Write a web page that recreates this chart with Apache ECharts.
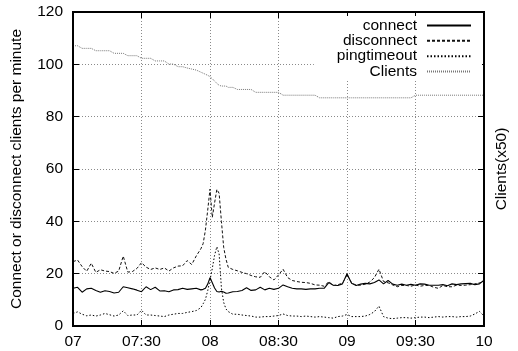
<!DOCTYPE html>
<html>
<head>
<meta charset="utf-8">
<script src="https://cdn.jsdelivr.net/npm/echarts@6/dist/echarts.min.js"></script>
<style>
  html, body { margin: 0; padding: 0; background: #fff; }
  #chart { width: 518px; height: 351px; }
</style>
</head>
<body>
<div id="chart"></div>
<script>
// Minutes after 07:00 for every sample
const minutes = [0,2,4,6,8,10,12,14,16,18,20,22,24,26,28,30,32,34,36,38,40,42,44,46,48,50,52,54,56,
  57,58,59,60,61,62,63,64,65,66,67,
  68,70,72,74,76,78,80,82,84,86,88,90,92,94,96,98,100,102,104,106,108,110,112,114,116,118,120,
  122,124,126,128,130,132,134,136,138,140,142,144,146,148,150,152,154,156,158,160,162,164,166,168,
  170,172,174,176,178,180];

// Connects per minute
const connect = [14.4,14.8,12.9,14.2,14.4,13.6,12.9,13.5,13.2,12.6,12.9,15.0,14.6,14.2,13.7,13.1,15.0,13.9,14.8,13.4,13.5,13.1,13.8,13.9,14.4,14.0,14.2,14.4,13.8,
  14.0,14.4,16.0,18.5,16.5,14.5,13.2,13.0,13.3,13.0,12.5,
  12.6,13.1,13.2,13.6,14.6,13.6,13.8,14.8,13.8,14.4,14.0,14.4,15.7,15.0,14.4,14.2,14.2,14.0,14.2,14.2,14.4,14.4,16.6,15.6,15.5,16.1,20.0,
  16.3,15.5,16.0,16.3,16.1,16.6,17.6,16.1,17.4,16.0,15.6,16.0,15.6,15.9,15.6,16.1,16.0,15.6,15.6,15.6,15.8,15.4,16.1,15.8,
  16.1,16.2,16.3,15.8,16.1,17.5];

// Disconnects per minute
const disconnect = [24.6,25.2,22.7,20.9,24.0,20.5,21.5,21.0,20.8,20.1,21.0,26.7,20.6,20.8,22.0,24.2,22.5,21.6,22.2,21.6,22.2,21.0,22.2,22.9,23.0,25.0,23.5,26.8,29.5,
  31.5,36.7,44.3,52.3,41.5,47.0,52.2,50.7,40.0,30.0,25.5,
  22.4,21.6,21.1,20.5,20.0,19.3,18.8,18.6,20.8,18.8,17.6,19.5,21.7,18.5,17.4,17.0,16.7,16.6,16.3,15.7,15.6,15.2,16.9,15.5,15.8,16.3,19.5,
  16.5,15.6,15.6,16.0,16.8,18.5,21.7,17.0,16.5,15.7,15.0,15.5,15.5,15.2,15.7,15.2,15.5,15.5,14.8,14.4,15.5,15.0,15.0,15.6,
  15.5,15.6,15.8,16.1,16.5,17.0];

// Ping timeouts per minute
const pingtimeout = [4.8,5.4,4.5,3.9,4.2,3.8,4.2,4.8,4.3,3.8,4.2,5.8,4.0,4.2,4.2,6.0,4.2,4.2,4.0,3.8,3.6,4.2,4.5,4.8,4.8,5.2,5.5,5.9,7.0,
  8.5,10.2,13.5,17.5,22.0,27.0,30.3,27.5,14.5,9.0,6.5,
  5.5,4.5,4.5,4.2,4.0,3.8,3.4,3.4,3.6,3.6,3.8,4.0,4.6,4.0,3.8,3.8,3.6,3.8,3.6,3.4,3.6,3.4,3.2,3.0,3.6,3.8,4.4,
  3.6,3.6,3.6,3.8,4.4,5.5,7.6,3.6,3.0,2.8,3.0,3.2,3.2,3.0,3.2,3.4,3.4,3.2,3.4,3.6,3.4,3.6,3.6,3.4,
  3.6,3.6,3.8,4.6,5.6,3.8];

// Connected clients, divided by 50
const clients = [107.1,107.1,106.1,106.1,106.1,105.2,105.2,105.2,105.2,104.2,104.2,104.2,103.3,103.3,103.3,102.3,102.3,102.3,101.3,101.3,101.3,100.1,100.1,99.1,99.1,98.6,98.2,97.8,97.0,
  96.6,96.2,95.8,95.3,94.5,93.6,92.7,92.0,91.7,91.7,91.7,
  91.2,91.2,90.4,90.4,90.4,90.4,89.3,89.3,89.3,89.3,89.3,89.3,88.2,88.2,88.2,88.2,88.2,88.2,88.2,88.2,87.2,87.2,87.2,87.2,87.2,87.2,87.2,
  87.2,87.2,87.2,87.2,87.2,87.2,87.2,87.2,87.2,87.2,87.2,87.2,87.2,87.2,88.2,88.2,88.2,88.2,88.2,88.2,88.2,88.2,88.2,88.2,88.2,
  88.2,88.2,88.2,88.2,88.2,88.2];

// Hour labels for the time axis, one per half hour
const timeLabels = ['07', '07:30', '08', '08:30', '09', '09:30', '10'];

const FONT = 'Liberation Sans, Arial, Helvetica, sans-serif';
const pairs = vals => minutes.map((m, i) => [m, vals[i]]);

// A single dash longer than the whole frame keeps the border solid
const SOLID = [5000, 1];
const gridLine = () => ({ show: true, lineStyle: { color: '#8a8a8a', width: 1, type: [1, 2] } });
const frame = () => ({ show: true, onZero: false, lineStyle: { color: '#000', width: 2, type: SOLID } });
const inTicks = () => ({ show: true, inside: true, length: 6, lineStyle: { color: '#000', width: 1, type: SOLID } });

const chart = echarts.init(document.getElementById('chart'), null, { renderer: 'canvas' });
chart.setOption({
  animation: false,
  backgroundColor: '#fff',
  grid: { left: 73, right: 28, top: 12, bottom: 25, show: true, borderColor: '#000', borderWidth: 2, backgroundColor: 'transparent' },
  legend: {
    orient: 'vertical',
    right: 36,
    top: 16,
    align: 'right',
    itemWidth: 44,
    itemHeight: 15,
    itemGap: -0.6,
    backgroundColor: '#fff',
    padding: [1.4, 10, 1, 23],
    itemStyle: { opacity: 0 },
    textStyle: { fontFamily: FONT, fontSize: 15.5, color: '#000', lineHeight: 15, padding: [0, 5, 0, 0] },
    data: ['connect', 'disconnect', 'pingtimeout', 'Clients']
  },
  xAxis: [{
    type: 'value', min: 0, max: 180, interval: 30, position: 'bottom',
    axisLine: frame(), axisTick: inTicks(), splitLine: gridLine(),
    axisLabel: {
      margin: 8, fontFamily: FONT, fontSize: 15.5, color: '#000',
      formatter: v => timeLabels[Math.round(v / 30)]
    }
  }, {
    type: 'value', min: 0, max: 180, interval: 30, position: 'top',
    axisLine: frame(), axisTick: inTicks(), splitLine: { show: false }, axisLabel: { show: false }
  }],
  yAxis: [{
    type: 'value', min: 0, max: 120, interval: 20, position: 'left',
    name: 'Connect or disconnect clients per minute',
    nameLocation: 'middle', nameRotate: 90, nameGap: 48,
    nameTextStyle: { fontFamily: FONT, fontSize: 15.5, color: '#000' },
    axisLine: frame(), axisTick: inTicks(), splitLine: gridLine(),
    axisLabel: { margin: 10, fontFamily: FONT, fontSize: 15.5, color: '#000' }
  }, {
    type: 'value', min: 0, max: 120, interval: 20, position: 'right',
    name: 'Clients(x50)',
    nameLocation: 'middle', nameRotate: 90, nameGap: 10,
    nameTextStyle: { fontFamily: FONT, fontSize: 15.5, color: '#000' },
    axisLine: frame(), axisTick: inTicks(), splitLine: { show: false }, axisLabel: { show: false }
  }],
  series: [{
    name: 'connect', type: 'line', symbol: 'none', data: pairs(connect),
    lineStyle: { color: '#000', width: 1.1, type: SOLID }, itemStyle: { color: '#000' }
  }, {
    name: 'disconnect', type: 'line', symbol: 'none', data: pairs(disconnect),
    lineStyle: { color: '#111', width: 1, type: [3, 2] }, itemStyle: { color: '#111' }
  }, {
    name: 'pingtimeout', type: 'line', symbol: 'none', data: pairs(pingtimeout),
    lineStyle: { color: '#000', width: 1, type: [1.5, 2] }, itemStyle: { color: '#000' }
  }, {
    name: 'Clients', type: 'line', symbol: 'none', xAxisIndex: 1, yAxisIndex: 1, data: pairs(clients),
    lineStyle: { color: '#777', width: 1, type: [1, 1] }, itemStyle: { color: '#777' }
  }]
});

// Solid border around the plot area, placed from the axis extents and kept on top
const lo = chart.convertToPixel({ gridIndex: 0 }, [0, 0]);
const hi = chart.convertToPixel({ gridIndex: 0 }, [180, 120]);
chart.setOption({
  graphic: [{
    type: 'rect', z: 100, silent: true,
    shape: { x: lo[0], y: hi[1], width: hi[0] - lo[0], height: lo[1] - hi[1] },
    style: { fill: 'none', stroke: '#000', lineWidth: 2, lineDash: SOLID }
  }]
});
</script>
</body>
</html>
